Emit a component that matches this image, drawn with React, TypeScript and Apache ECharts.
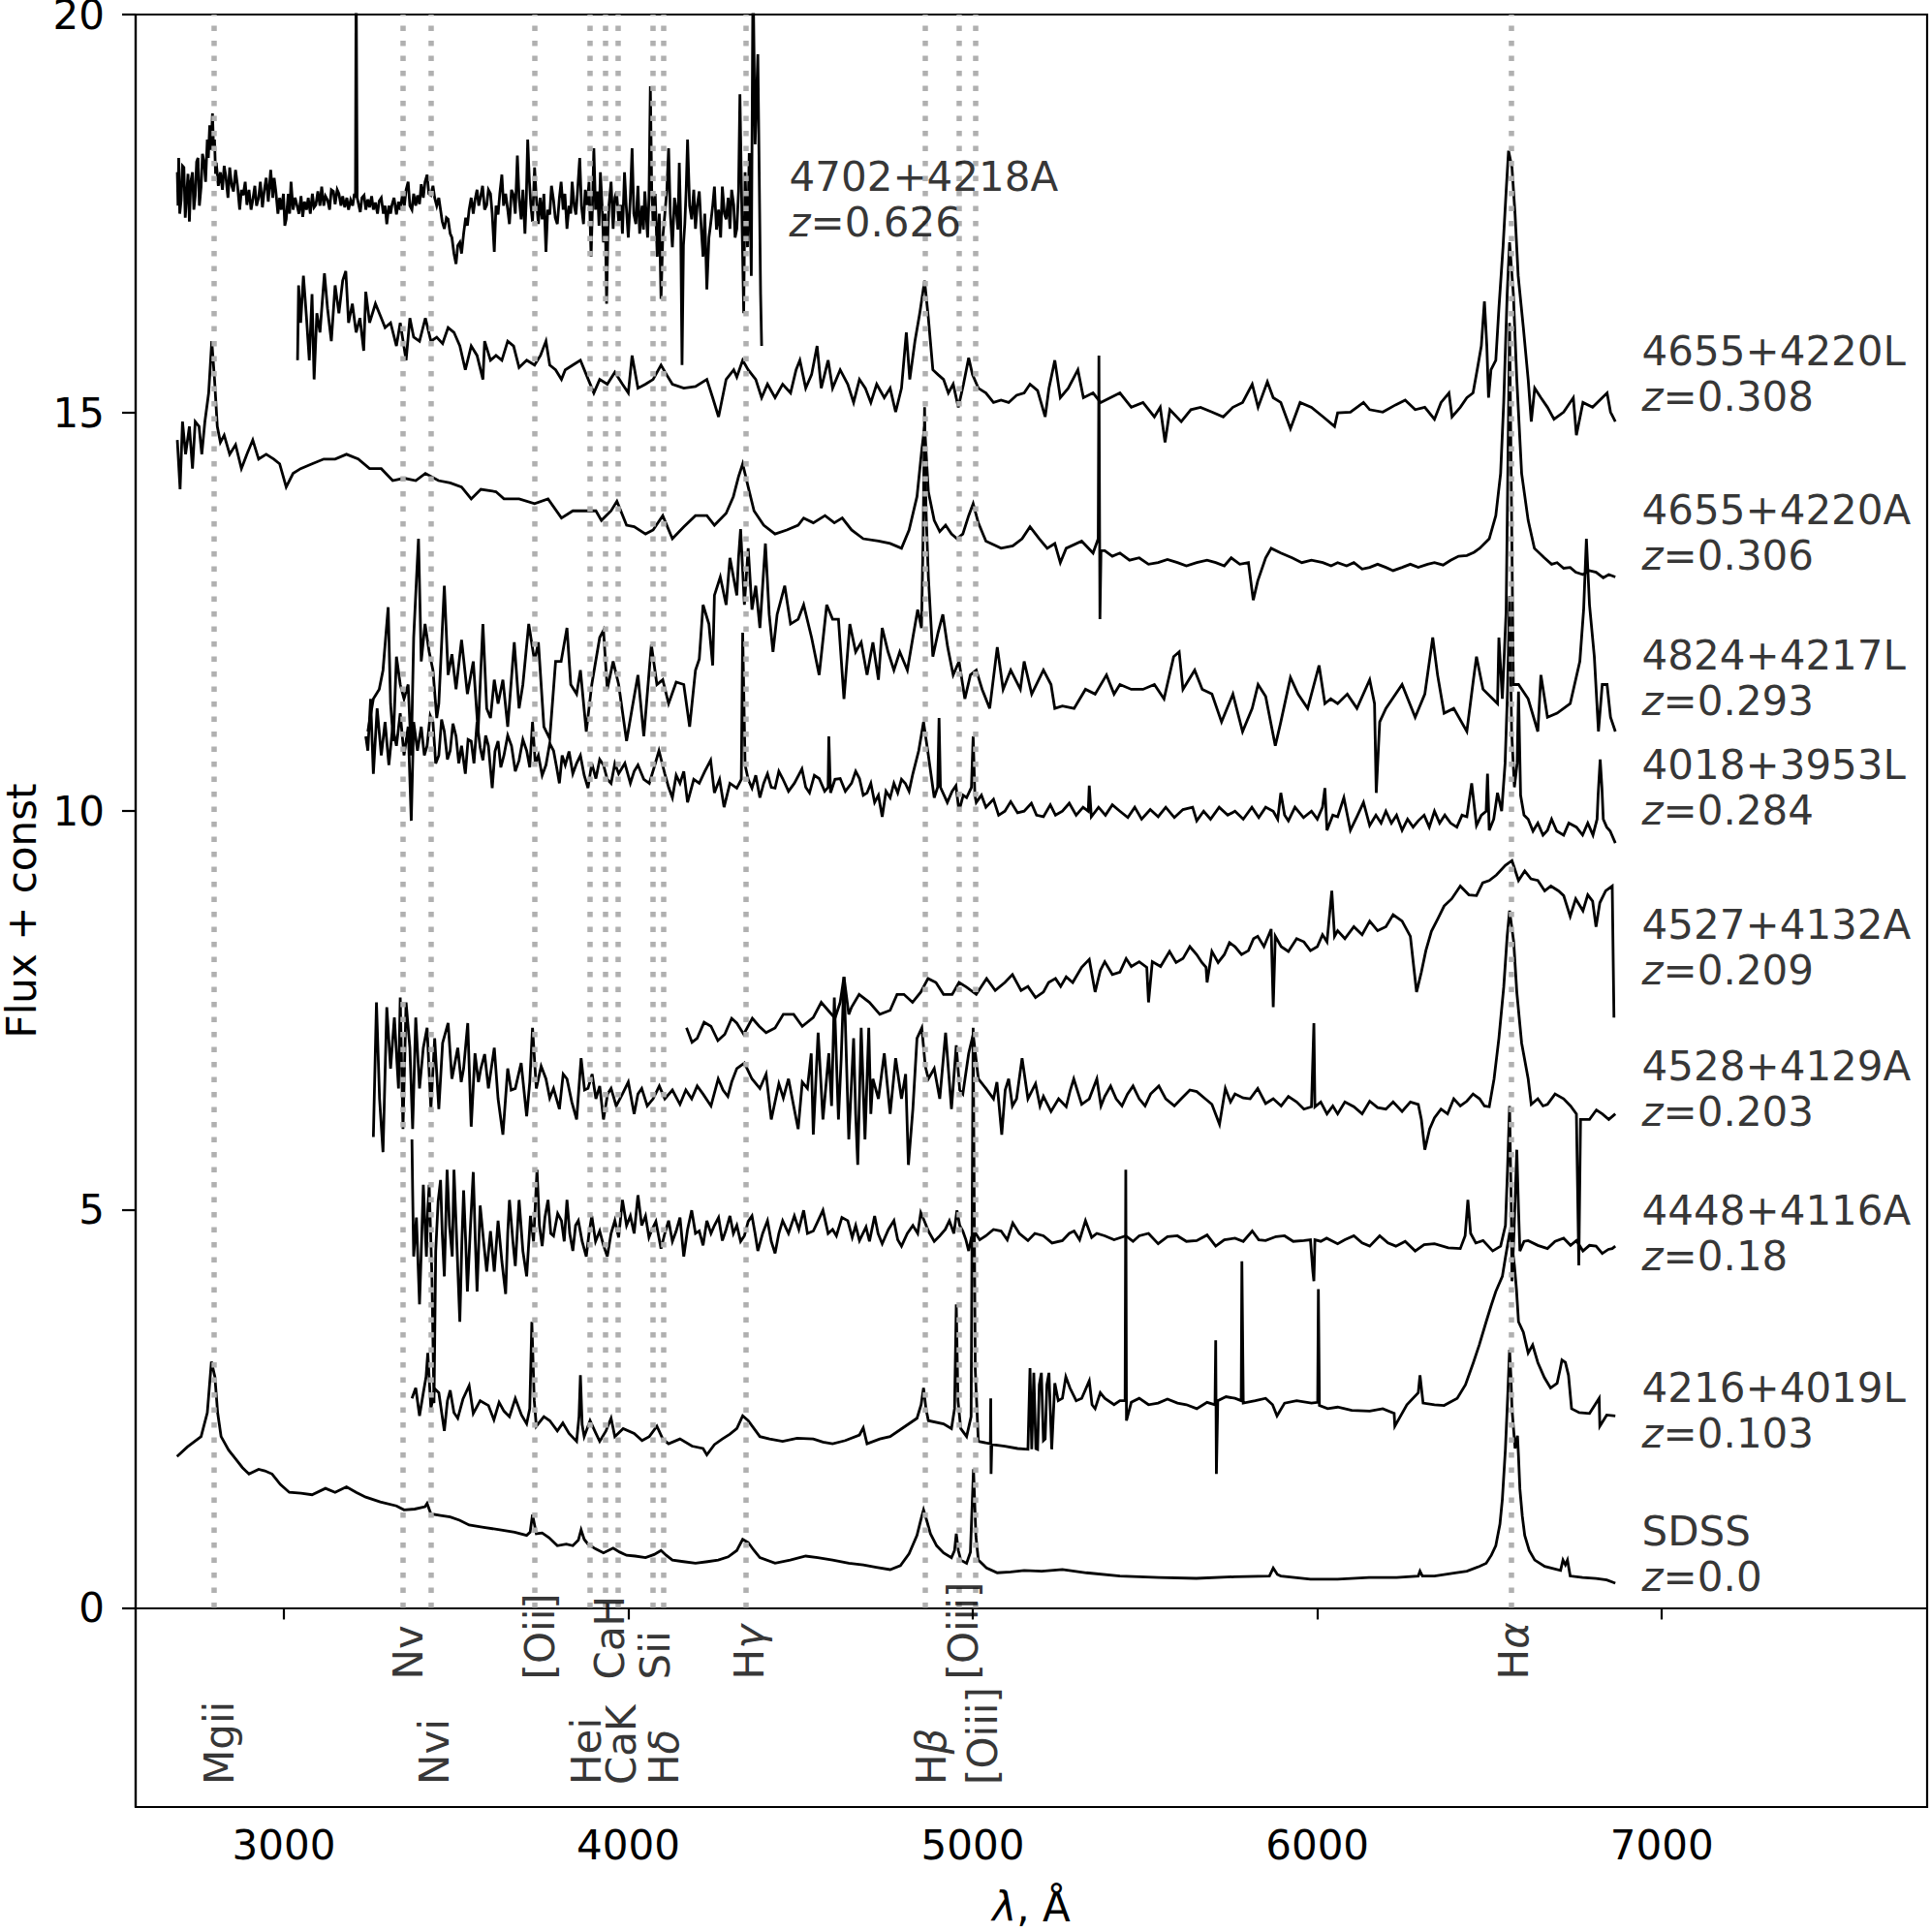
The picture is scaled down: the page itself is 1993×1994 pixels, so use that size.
import React, { useEffect, useRef } from "react";
import * as echarts from "echarts";

// ---- data (wavelength in Angstrom, flux + const) ----
const sdss: number[][] = [[2690,1.90],[2720,2.02],[2760,2.15],[2778,2.45],[2790,3.09],[2800,2.9],[2808,2.45],[2818,2.15],[2840,1.98],[2860,1.87],[2880,1.76],[2899,1.68],[2927,1.74],[2945,1.72],[2966,1.68],[2990,1.55],[3016,1.45],[3050,1.44],[3082,1.42],[3121,1.50],[3149,1.45],[3182,1.52],[3210,1.45],[3238,1.39],[3280,1.33],[3327,1.28],[3349,1.23],[3380,1.24],[3410,1.27],[3416,1.31],[3427,1.18],[3455,1.16],[3483,1.14],[3510,1.10],[3538,1.04],[3580,1.01],[3627,0.98],[3670,0.95],[3705,0.91],[3715,0.95],[3722,1.17],[3733,0.93],[3750,0.94],[3770,0.88],[3794,0.78],[3820,0.8],[3839,0.78],[3855,0.85],[3863,0.98],[3872,0.86],[3883,0.80],[3905,0.74],[3928,0.69],[3956,0.75],[3975,0.7],[3995,0.66],[4020,0.65],[4050,0.63],[4075,0.67],[4095,0.72],[4110,0.66],[4128,0.60],[4160,0.58],[4195,0.56],[4230,0.58],[4261,0.60],[4290,0.64],[4315,0.72],[4332,0.86],[4348,0.82],[4365,0.72],[4382,0.63],[4426,0.56],[4470,0.6],[4515,0.65],[4550,0.63],[4593,0.60],[4640,0.56],[4682,0.54],[4720,0.51],[4760,0.48],[4790,0.53],[4815,0.68],[4838,0.91],[4850,1.12],[4857,1.23],[4866,1.1],[4877,0.93],[4895,0.78],[4915,0.69],[4938,0.63],[4947,0.72],[4952,0.93],[4958,0.72],[4965,0.60],[4982,0.56],[4993,0.7],[5002,1.74],[5009,0.9],[5016,0.60],[5040,0.5],[5071,0.44],[5110,0.45],[5149,0.47],[5200,0.46],[5260,0.48],[5330,0.44],[5427,0.40],[5540,0.38],[5649,0.37],[5760,0.39],[5861,0.40],[5872,0.50],[5884,0.42],[5894,0.40],[5980,0.36],[6059,0.36],[6150,0.38],[6230,0.38],[6293,0.40],[6298,0.46],[6305,0.40],[6340,0.40],[6400,0.44],[6434,0.46],[6470,0.52],[6490,0.56],[6505,0.66],[6518,0.78],[6530,1.05],[6537,1.36],[6546,2.0],[6553,2.7],[6558,3.24],[6562,2.9],[6565,2.5],[6574,2.0],[6581,2.16],[6584,1.9],[6588,1.49],[6595,1.15],[6602,0.91],[6615,0.72],[6631,0.60],[6660,0.52],[6706,0.47],[6713,0.60],[6720,0.54],[6726,0.60],[6734,0.40],[6770,0.38],[6809,0.37],[6840,0.35],[6865,0.31]];

const s4216L: number[][] = [[3372,2.63],[3383,2.76],[3394,2.41],[3405,2.70],[3413,2.9],[3418,3.20],[3427,2.50],[3438,2.75],[3450,2.70],[3466,2.22],[3475,2.6],[3483,2.73],[3494,2.45],[3505,2.38],[3520,2.62],[3538,2.79],[3550,2.44],[3570,2.6],[3594,2.54],[3610,2.36],[3625,2.58],[3639,2.47],[3655,2.4],[3672,2.63],[3690,2.42],[3705,2.31],[3714,2.5],[3720,3.59],[3727,2.6],[3733,2.28],[3755,2.4],[3772,2.35],[3794,2.22],[3810,2.32],[3828,2.19],[3850,2.09],[3857,2.4],[3861,2.92],[3866,2.3],[3872,2.15],[3889,2.35],[3905,2.2],[3917,2.09],[3935,2.22],[3950,2.38],[3961,2.15],[3985,2.25],[4017,2.19],[4040,2.1],[4061,2.15],[4083,2.28],[4100,2.12],[4117,2.06],[4150,2.12],[4185,2.03],[4217,2.0],[4228,1.92],[4250,2.05],[4273,2.12],[4295,2.18],[4315,2.25],[4332,2.41],[4348,2.35],[4382,2.15],[4410,2.12],[4448,2.09],[4490,2.13],[4537,2.12],[4565,2.08],[4593,2.06],[4630,2.1],[4671,2.17],[4682,2.26],[4693,2.06],[4730,2.12],[4760,2.15],[4804,2.28],[4838,2.38],[4850,2.55],[4857,2.76],[4864,2.5],[4871,2.35],[4915,2.31],[4938,2.25],[4947,2.5],[4952,3.81],[4957,2.6],[4965,2.25],[4982,2.15],[4995,2.4],[5001,7.28],[5007,3.0],[5016,2.09],[5051,2.06],[5052,2.63],[5053,1.68],[5055,2.05],[5093,2.03],[5130,2.0],[5160,1.99],[5166,3.01],[5171,1.99],[5177,2.95],[5183,2.0],[5188,1.99],[5193,2.8],[5199,2.95],[5205,2.1],[5210,2.12],[5215,2.8],[5221,2.95],[5229,1.99],[5238,2.82],[5248,2.6],[5260,2.63],[5270,2.9],[5282,2.76],[5300,2.6],[5316,2.63],[5338,2.85],[5346,2.55],[5355,2.5],[5370,2.7],[5383,2.63],[5410,2.55],[5427,2.6],[5442,2.6],[5444,5.5],[5446,2.35],[5460,2.58],[5483,2.63],[5510,2.55],[5538,2.57],[5565,2.62],[5594,2.57],[5620,2.55],[5650,2.5],[5680,2.58],[5703,2.55],[5705,3.36],[5707,1.68],[5711,2.6],[5735,2.65],[5761,2.63],[5779,2.6],[5781,4.35],[5785,2.57],[5820,2.6],[5850,2.63],[5870,2.55],[5883,2.41],[5905,2.57],[5940,2.6],[5983,2.57],[6001,2.58],[6003,4.0],[6006,2.54],[6030,2.5],[6059,2.52],[6100,2.48],[6152,2.47],[6190,2.5],[6223,2.44],[6225,2.28],[6260,2.55],[6293,2.7],[6298,2.92],[6307,2.57],[6340,2.55],[6368,2.54],[6406,2.63],[6430,2.8],[6453,3.08],[6470,3.3],[6490,3.59],[6505,3.8],[6518,3.97],[6537,4.16],[6546,4.4],[6554,4.6],[6560,4.75],[6565,4.55],[6572,4.3],[6578,4.0],[6584,3.59],[6598,3.46],[6612,3.2],[6625,3.3],[6640,3.08],[6659,2.89],[6677,2.76],[6696,2.82],[6705,3.0],[6710,3.11],[6720,3.08],[6729,2.92],[6738,2.5],[6760,2.45],[6790,2.44],[6818,2.63],[6820,2.28],[6840,2.42],[6865,2.41]];

const s4448A: number[][] = [[3372,5.88],[3374,5.24],[3377,4.41],[3385,4.9],[3394,3.81],[3400,4.6],[3405,5.31],[3410,4.8],[3414,4.41],[3418,5.0],[3422,5.31],[3430,4.16],[3436,2.57],[3441,4.48],[3448,5.1],[3455,5.37],[3460,4.7],[3466,4.16],[3474,5.5],[3481,4.8],[3489,4.41],[3494,5.5],[3503,4.5],[3511,3.59],[3517,4.6],[3522,5.24],[3528,4.6],[3533,3.97],[3542,4.8],[3550,5.47],[3556,4.6],[3561,3.97],[3570,5.05],[3580,4.6],[3589,4.22],[3600,4.73],[3611,4.22],[3622,4.86],[3633,4.35],[3644,3.94],[3650,4.7],[3655,5.12],[3665,4.6],[3672,4.29],[3683,5.12],[3694,4.48],[3705,4.16],[3716,4.92],[3725,4.6],[3735,5.5],[3742,4.8],[3750,4.54],[3758,4.9],[3767,5.12],[3775,4.7],[3783,4.67],[3795,4.95],[3806,4.86],[3814,4.6],[3822,5.12],[3830,4.7],[3839,4.48],[3847,4.8],[3855,4.86],[3866,4.6],[3878,4.41],[3886,4.7],[3894,4.92],[3905,4.6],[3917,4.73],[3928,4.55],[3939,4.41],[3950,4.7],[3961,4.86],[3972,4.65],[3983,5.12],[3995,4.8],[4006,4.92],[4017,4.7],[4028,5.18],[4039,4.8],[4050,4.92],[4060,4.65],[4067,4.73],[4080,4.85],[4095,4.51],[4106,4.7],[4117,4.86],[4128,4.6],[4139,4.73],[4150,4.9],[4161,4.41],[4172,4.75],[4184,4.99],[4195,4.7],[4206,4.73],[4217,4.55],[4228,4.86],[4240,4.7],[4250,4.8],[4262,4.9],[4273,4.61],[4284,4.75],[4295,4.92],[4305,4.7],[4315,4.8],[4326,4.6],[4337,4.67],[4348,4.85],[4359,4.92],[4368,4.7],[4376,4.48],[4390,4.7],[4404,4.86],[4415,4.6],[4426,4.45],[4437,4.7],[4448,4.86],[4465,4.7],[4482,4.92],[4495,4.75],[4509,4.99],[4520,4.7],[4537,4.73],[4550,4.85],[4565,4.99],[4580,4.7],[4593,4.75],[4604,4.67],[4620,4.9],[4637,4.86],[4650,4.65],[4660,4.8],[4671,4.61],[4690,4.78],[4700,4.6],[4715,4.92],[4725,4.7],[4737,4.57],[4755,4.75],[4771,4.86],[4782,4.62],[4793,4.54],[4810,4.7],[4826,4.8],[4840,4.7],[4849,4.96],[4860,4.85],[4871,4.73],[4888,4.6],[4904,4.67],[4920,4.75],[4932,4.86],[4945,4.7],[4954,4.99],[4962,4.8],[4971,4.73],[4980,4.62],[4988,4.48],[4996,4.65],[5004,4.73],[5020,4.62],[5038,4.67],[5060,4.75],[5082,4.73],[5100,4.62],[5116,4.83],[5135,4.7],[5160,4.61],[5180,4.7],[5205,4.67],[5230,4.58],[5260,4.61],[5280,4.7],[5294,4.73],[5310,4.62],[5327,4.86],[5345,4.65],[5360,4.7],[5383,4.67],[5410,4.62],[5444,4.67],[5465,4.6],[5483,4.67],[5510,4.7],[5538,4.57],[5565,4.66],[5594,4.67],[5620,4.6],[5650,4.61],[5680,4.68],[5705,4.54],[5730,4.62],[5761,4.64],[5785,4.6],[5811,4.73],[5830,4.62],[5850,4.61],[5880,4.66],[5905,4.67],[5930,4.6],[5961,4.61],[5980,4.62],[5987,4.22],[5990,4.1],[5993,4.62],[6010,4.6],[6027,4.64],[6059,4.57],[6080,4.62],[6106,4.67],[6130,4.58],[6152,4.54],[6181,4.67],[6205,4.58],[6228,4.54],[6255,4.6],[6284,4.48],[6310,4.56],[6340,4.57],[6380,4.52],[6415,4.51],[6429,4.67],[6437,5.12],[6445,4.7],[6460,4.58],[6481,4.61],[6509,4.48],[6532,4.54],[6546,4.8],[6552,5.5],[6558,6.3],[6563,5.0],[6565,4.1],[6571,4.73],[6579,5.75],[6584,5.0],[6588,4.48],[6600,4.6],[6612,4.61],[6640,4.55],[6668,4.51],[6690,4.6],[6715,4.64],[6735,4.55],[6752,4.61],[6771,4.48],[6790,4.55],[6809,4.54],[6827,4.45],[6845,4.5],[6856,4.51],[6865,4.54]];

const s4528A: number[][] = [[3260,5.91],[3269,7.6],[3278,6.39],[3288,5.72],[3299,7.54],[3310,6.77],[3321,7.41],[3333,6.52],[3338,7.66],[3346,6.01],[3355,7.6],[3366,7.03],[3374,6.01],[3383,7.41],[3394,6.52],[3405,7.03],[3416,7.28],[3427,6.26],[3438,7.15],[3450,6.26],[3461,7.09],[3477,7.34],[3488,6.64],[3505,7.03],[3515,6.6],[3522,6.77],[3534,7.34],[3544,6.04],[3555,6.96],[3565,6.6],[3572,6.77],[3583,6.95],[3594,6.52],[3611,7.03],[3622,6.39],[3636,5.94],[3650,6.77],[3660,6.5],[3672,6.52],[3689,6.84],[3705,6.17],[3714,6.6],[3722,7.28],[3733,6.52],[3747,6.8],[3761,6.64],[3772,6.4],[3783,6.52],[3800,6.26],[3811,6.7],[3822,6.64],[3836,6.35],[3850,6.13],[3863,6.9],[3873,6.5],[3883,6.52],[3895,6.7],[3906,6.39],[3917,6.55],[3928,6.13],[3940,6.45],[3950,6.52],[3965,6.3],[3983,6.45],[4000,6.6],[4017,6.2],[4028,6.45],[4039,6.52],[4055,6.3],[4072,6.39],[4090,6.55],[4106,6.39],[4128,6.5],[4150,6.32],[4167,6.5],[4184,6.39],[4200,6.55],[4217,6.45],[4240,6.3],[4261,6.64],[4275,6.5],[4289,6.42],[4300,6.6],[4315,6.77],[4337,6.84],[4359,6.64],[4382,6.52],[4400,6.7],[4415,6.13],[4437,6.58],[4450,6.4],[4465,6.64],[4480,6.3],[4493,6.01],[4505,6.6],[4520,6.52],[4531,6.96],[4537,5.94],[4551,7.22],[4565,6.13],[4582,6.96],[4590,6.3],[4598,7.66],[4610,6.13],[4618,6.9],[4626,7.92],[4640,5.88],[4654,7.15],[4660,6.2],[4666,5.56],[4676,7.28],[4687,5.88],[4698,7.28],[4704,6.2],[4710,6.64],[4726,6.39],[4743,6.96],[4760,6.2],[4776,6.9],[4793,6.39],[4805,6.7],[4813,5.56],[4826,6.26],[4838,7.15],[4852,7.28],[4862,6.8],[4871,6.64],[4888,6.77],[4904,6.39],[4921,7.22],[4938,6.26],[4952,7.06],[4962,6.5],[4971,6.45],[4988,6.96],[5001,7.2],[5016,6.64],[5038,6.52],[5060,6.39],[5070,6.6],[5084,5.94],[5094,6.5],[5104,6.64],[5115,6.3],[5127,6.39],[5143,6.9],[5160,6.39],[5182,6.58],[5195,6.3],[5205,6.42],[5227,6.23],[5249,6.39],[5271,6.29],[5283,6.5],[5293,6.64],[5316,6.32],[5338,6.39],[5360,6.64],[5372,6.3],[5383,6.42],[5400,6.55],[5416,6.39],[5433,6.3],[5449,6.45],[5465,6.55],[5483,6.39],[5500,6.3],[5516,6.45],[5540,6.55],[5560,6.39],[5585,6.3],[5605,6.39],[5630,6.5],[5650,6.48],[5672,6.4],[5694,6.32],[5716,6.07],[5733,6.52],[5748,6.35],[5761,6.45],[5785,6.4],[5805,6.39],[5827,6.52],[5850,6.33],[5872,6.39],[5895,6.3],[5916,6.42],[5940,6.35],[5961,6.26],[5983,6.29],[5990,7.34],[5993,6.29],[6010,6.35],[6028,6.2],[6045,6.3],[6059,6.2],[6080,6.35],[6106,6.29],[6130,6.2],[6152,6.36],[6175,6.28],[6199,6.26],[6220,6.35],[6246,6.23],[6270,6.35],[6293,6.32],[6302,6.13],[6312,5.75],[6326,6.01],[6340,6.15],[6359,6.26],[6378,6.2],[6396,6.39],[6415,6.3],[6434,6.36],[6452,6.45],[6471,6.39],[6485,6.3],[6499,6.29],[6513,6.64],[6527,7.15],[6541,7.79],[6551,8.43],[6558,8.75],[6570,8.36],[6579,7.73],[6593,7.09],[6612,6.64],[6621,6.32],[6640,6.39],[6655,6.3],[6668,6.32],[6690,6.45],[6715,6.39],[6735,6.3],[6752,6.2],[6759,4.3],[6764,6.13],[6790,6.13],[6810,6.25],[6827,6.2],[6846,6.13],[6865,6.2]];

const s4527A: number[][] = [[4169,7.28],[4185,7.1],[4200,7.15],[4220,7.35],[4240,7.3],[4260,7.12],[4280,7.2],[4300,7.4],[4315,7.34],[4335,7.2],[4360,7.4],[4380,7.3],[4400,7.22],[4426,7.28],[4450,7.45],[4480,7.45],[4505,7.3],[4537,7.41],[4560,7.6],[4580,7.5],[4600,7.4],[4615,7.6],[4626,7.92],[4640,7.45],[4648,7.54],[4670,7.7],[4700,7.6],[4730,7.45],[4760,7.5],[4780,7.7],[4800,7.7],[4825,7.6],[4849,7.73],[4870,7.9],[4893,7.85],[4915,7.7],[4940,7.7],[4960,7.85],[4982,7.79],[5010,7.7],[5040,7.9],[5065,7.75],[5093,7.85],[5115,7.95],[5140,7.75],[5160,7.8],[5182,7.66],[5205,7.73],[5220,7.85],[5240,7.9],[5255,7.8],[5271,7.92],[5290,7.85],[5316,8.04],[5338,8.14],[5355,7.73],[5370,8.0],[5383,8.11],[5405,7.95],[5427,7.98],[5445,8.15],[5460,8.05],[5483,8.11],[5505,8.04],[5510,7.6],[5521,8.11],[5545,8.05],[5571,8.24],[5590,8.1],[5610,8.15],[5630,8.3],[5650,8.2],[5665,8.1],[5677,8.04],[5680,7.85],[5694,8.24],[5712,8.1],[5730,8.2],[5745,8.35],[5761,8.3],[5780,8.2],[5800,8.25],[5815,8.4],[5827,8.43],[5845,8.3],[5866,8.52],[5872,7.54],[5878,8.43],[5895,8.3],[5916,8.24],[5940,8.4],[5961,8.36],[5980,8.25],[6000,8.3],[6015,8.45],[6028,8.36],[6042,9.0],[6050,8.43],[6059,8.5],[6080,8.4],[6106,8.55],[6130,8.45],[6152,8.62],[6175,8.5],[6199,8.55],[6220,8.7],[6246,8.62],[6270,8.43],[6288,7.73],[6302,7.98],[6315,8.25],[6331,8.49],[6350,8.65],[6368,8.81],[6390,8.9],[6415,9.06],[6440,8.95],[6462,8.94],[6480,9.1],[6499,9.13],[6520,9.2],[6546,9.32],[6565,9.38],[6584,9.13],[6602,9.25],[6620,9.15],[6640,9.13],[6660,9.0],[6678,9.06],[6700,9.0],[6715,8.94],[6734,8.68],[6750,8.9],[6771,8.75],[6785,8.95],[6799,8.87],[6809,8.55],[6820,8.85],[6837,9.0],[6856,9.06],[6861,7.41]];

const s4018L: number[][] = [[3238,10.94],[3244,10.76],[3252,11.41],[3260,10.47],[3271,11.29],[3283,10.7],[3294,11.12],[3305,10.58],[3316,11.06],[3327,10.82],[3338,11.23],[3349,10.7],[3361,11.06],[3370,9.88],[3377,11.12],[3388,10.76],[3399,11.06],[3408,10.7],[3416,10.82],[3425,11.2],[3433,11.12],[3441,10.6],[3450,10.7],[3458,11.15],[3466,11.0],[3475,10.65],[3483,10.76],[3491,11.1],[3500,10.94],[3508,10.6],[3516,10.82],[3527,10.47],[3535,10.9],[3544,10.88],[3552,10.6],[3561,11.12],[3570,10.8],[3578,10.64],[3586,10.95],[3594,10.82],[3605,10.29],[3613,10.75],[3622,10.88],[3630,10.55],[3639,10.7],[3650,10.95],[3661,10.82],[3672,10.5],[3683,10.64],[3694,10.9],[3705,10.76],[3714,10.55],[3722,11.12],[3730,10.6],[3739,10.7],[3750,10.45],[3761,10.58],[3772,10.85],[3783,10.76],[3792,10.55],[3800,10.35],[3808,10.7],[3817,10.58],[3828,10.75],[3839,10.47],[3850,10.6],[3861,10.7],[3872,10.45],[3883,10.29],[3894,10.6],[3906,10.41],[3917,10.65],[3928,10.58],[3939,10.4],[3950,10.35],[3961,10.6],[3972,10.47],[3990,10.6],[4006,10.35],[4017,10.5],[4028,10.58],[4045,10.4],[4061,10.35],[4075,10.55],[4089,10.76],[4106,10.47],[4117,10.3],[4128,10.17],[4139,10.45],[4150,10.35],[4161,10.5],[4172,10.11],[4190,10.4],[4206,10.35],[4222,10.5],[4239,10.64],[4250,10.23],[4265,10.4],[4278,10.05],[4295,10.35],[4315,10.29],[4328,10.4],[4332,12.24],[4339,10.58],[4348,10.4],[4359,10.29],[4370,10.45],[4382,10.17],[4393,10.35],[4404,10.47],[4415,10.3],[4426,10.29],[4437,10.5],[4448,10.41],[4465,10.25],[4482,10.35],[4504,10.53],[4515,10.3],[4526,10.23],[4540,10.45],[4554,10.41],[4570,10.25],[4580,10.3],[4582,10.94],[4587,10.23],[4600,10.4],[4615,10.41],[4630,10.25],[4648,10.35],[4660,10.5],[4671,10.41],[4682,10.2],[4693,10.23],[4704,10.35],[4715,10.11],[4726,10.2],[4737,9.93],[4748,10.25],[4760,10.17],[4771,10.35],[4782,10.23],[4793,10.4],[4804,10.35],[4815,10.25],[4826,10.47],[4843,10.76],[4857,11.12],[4871,10.7],[4888,10.17],[4898,10.3],[4902,11.17],[4906,10.3],[4926,10.11],[4940,10.25],[4951,10.32],[4960,10.0],[4972,10.2],[4982,10.17],[4996,10.3],[5001,10.94],[5006,10.2],[5010,10.11],[5025,10.2],[5038,10.05],[5060,10.15],[5075,9.95],[5093,10.0],[5110,10.12],[5130,9.98],[5149,10.0],[5170,10.1],[5185,9.95],[5205,9.93],[5225,10.08],[5240,9.95],[5260,10.0],[5280,10.1],[5300,9.95],[5320,10.05],[5335,10.0],[5338,10.32],[5344,9.93],[5365,10.05],[5385,9.95],[5405,10.08],[5427,10.0],[5450,9.92],[5470,10.05],[5490,9.9],[5515,10.02],[5538,9.93],[5560,10.05],[5585,9.92],[5610,10.02],[5638,10.05],[5650,9.88],[5670,10.0],[5690,9.9],[5715,10.05],[5740,9.95],[5761,10.0],[5785,9.9],[5810,10.05],[5830,9.92],[5850,10.05],[5872,10.0],[5885,9.9],[5894,10.23],[5905,9.95],[5916,9.88],[5935,10.05],[5960,9.92],[5983,10.0],[6000,9.9],[6015,10.05],[6022,10.29],[6028,9.76],[6045,9.95],[6059,9.93],[6077,10.17],[6096,9.76],[6115,9.93],[6134,10.11],[6152,9.82],[6170,9.95],[6185,9.85],[6199,10.0],[6215,9.85],[6230,9.95],[6246,9.76],[6262,9.9],[6278,9.8],[6293,9.88],[6310,9.95],[6325,9.8],[6340,10.0],[6355,9.85],[6370,9.95],[6387,9.85],[6405,9.8],[6420,9.95],[6434,9.93],[6448,10.35],[6462,9.82],[6476,9.95],[6490,10.0],[6494,10.47],[6499,9.76],[6512,9.9],[6523,10.23],[6535,10.0],[6545,10.6],[6552,11.5],[6558,12.7],[6564,11.0],[6572,10.3],[6580,10.6],[6584,11.5],[6590,10.2],[6600,9.95],[6612,9.9],[6626,9.75],[6640,9.85],[6655,9.7],[6668,9.76],[6680,9.9],[6695,9.75],[6715,9.7],[6730,9.85],[6752,9.8],[6770,9.7],[6785,9.85],[6800,9.7],[6812,9.9],[6815,10.2],[6821,10.65],[6826,10.3],[6830,9.9],[6840,9.8],[6850,9.75],[6865,9.6]];

const s4824L: number[][] = [[3244,11.0],[3260,11.41],[3277,11.53],[3288,11.77],[3303,12.56],[3310,11.35],[3318,10.88],[3327,11.94],[3338,11.59],[3349,11.41],[3361,11.59],[3370,10.7],[3377,12.18],[3385,12.9],[3391,13.42],[3399,11.88],[3410,12.35],[3422,12.0],[3433,11.77],[3444,11.17],[3450,11.35],[3466,12.83],[3477,11.71],[3488,11.97],[3500,11.53],[3516,12.15],[3533,11.47],[3550,11.88],[3564,11.0],[3578,12.35],[3589,11.29],[3600,11.17],[3611,11.65],[3622,11.35],[3636,11.65],[3650,11.06],[3669,12.12],[3683,11.29],[3694,11.59],[3711,12.35],[3728,11.88],[3739,12.12],[3755,11.06],[3772,10.91],[3789,11.88],[3805,11.88],[3822,12.3],[3833,11.59],[3850,11.47],[3861,11.77],[3878,11.0],[3894,11.59],[3917,12.18],[3928,12.27],[3939,11.53],[3956,11.88],[3972,11.59],[3995,10.88],[4011,11.29],[4028,11.71],[4045,10.94],[4067,12.09],[4083,11.59],[4100,11.65],[4117,11.35],[4139,11.62],[4161,11.59],[4178,11.06],[4195,11.77],[4206,11.91],[4217,12.59],[4234,12.35],[4245,11.83],[4250,12.71],[4267,12.94],[4284,12.59],[4295,13.18],[4315,12.71],[4320,13.18],[4326,13.54],[4337,12.59],[4348,13.3],[4359,12.53],[4370,12.83],[4382,12.3],[4398,13.36],[4409,12.47],[4420,12.0],[4432,12.47],[4454,12.83],[4471,12.35],[4493,12.41],[4509,12.59],[4532,12.18],[4554,11.71],[4576,12.59],[4593,12.41],[4610,12.41],[4626,11.41],[4643,12.35],[4660,12.0],[4676,12.12],[4693,11.71],[4710,12.12],[4726,11.65],[4737,12.3],[4754,12.0],[4771,11.77],[4788,12.0],[4810,11.77],[4826,12.18],[4840,12.53],[4851,12.3],[4856,13.5],[4860,15.07],[4864,13.8],[4871,12.94],[4884,11.94],[4899,12.24],[4913,12.47],[4927,12.06],[4943,11.71],[4960,11.88],[4977,11.41],[4993,11.71],[5010,11.77],[5027,11.53],[5049,11.29],[5071,12.06],[5088,11.53],[5110,11.77],[5138,11.53],[5149,11.88],[5171,11.47],[5205,11.77],[5227,11.59],[5238,11.29],[5260,11.32],[5294,11.29],[5327,11.53],[5355,11.47],[5388,11.71],[5410,11.47],[5427,11.59],[5460,11.53],[5494,11.53],[5527,11.59],[5555,11.41],[5583,11.94],[5599,12.0],[5610,11.53],[5644,11.77],[5666,11.53],[5694,11.47],[5722,11.12],[5755,11.47],[5783,11.0],[5811,11.29],[5828,11.59],[5850,11.44],[5878,10.82],[5894,11.12],[5922,11.68],[5944,11.47],[5972,11.29],[6005,11.83],[6022,11.35],[6039,11.41],[6059,11.35],[6087,11.47],[6115,11.29],[6152,11.65],[6166,11.35],[6171,10.23],[6181,11.12],[6199,11.29],[6246,11.59],[6284,11.18],[6312,11.47],[6335,12.18],[6349,11.71],[6368,11.23],[6396,11.29],[6434,11.0],[6453,11.65],[6462,11.94],[6481,11.53],[6509,11.41],[6523,11.35],[6527,12.18],[6537,11.41],[6548,12.5],[6555,15.0],[6558,16.13],[6562,14.5],[6569,11.59],[6584,11.59],[6612,11.41],[6640,11.0],[6649,11.71],[6668,11.18],[6696,11.23],[6734,11.35],[6762,11.88],[6773,12.53],[6781,13.42],[6790,12.59],[6804,11.94],[6816,11.0],[6827,11.59],[6841,11.59],[6851,11.18],[6865,11.0]];

const s4655A: number[][] = [[2691,14.66],[2699,14.04],[2706,14.89],[2715,14.48],[2726,14.83],[2735,14.3],[2743,14.89],[2754,14.83],[2762,14.48],[2771,14.89],[2782,15.25],[2791,15.9],[2799,15.42],[2807,14.83],[2816,14.63],[2827,14.72],[2843,14.48],[2860,14.6],[2877,14.3],[2893,14.48],[2910,14.66],[2927,14.42],[2949,14.48],[2971,14.42],[2988,14.36],[3007,14.07],[3027,14.24],[3049,14.3],[3082,14.36],[3116,14.42],[3149,14.42],[3182,14.48],[3216,14.42],[3249,14.3],[3283,14.3],[3316,14.15],[3349,14.18],[3383,14.15],[3411,14.24],[3449,14.15],[3483,14.12],[3516,14.07],[3544,13.92],[3572,14.04],[3616,14.01],[3639,13.92],[3683,13.92],[3728,13.86],[3767,13.92],[3806,13.68],[3839,13.77],[3872,13.77],[3906,13.77],[3922,13.65],[3950,13.77],[3967,13.89],[3995,13.59],[4017,13.57],[4050,13.48],[4072,13.53],[4100,13.71],[4128,13.42],[4161,13.57],[4195,13.71],[4228,13.71],[4250,13.59],[4284,13.74],[4305,13.95],[4320,14.2],[4332,14.36],[4348,14.07],[4365,13.77],[4393,13.59],[4426,13.48],[4460,13.53],[4493,13.59],[4509,13.68],[4537,13.62],[4571,13.71],[4598,13.62],[4621,13.68],[4648,13.53],[4682,13.42],[4726,13.39],[4760,13.36],[4793,13.3],[4815,13.53],[4838,13.95],[4852,14.54],[4860,14.83],[4871,14.01],[4888,13.65],[4904,13.51],[4921,13.59],[4938,13.48],[4954,13.42],[4971,13.48],[4988,13.71],[5001,13.86],[5016,13.62],[5038,13.39],[5082,13.3],[5116,13.33],[5143,13.42],[5166,13.57],[5193,13.42],[5216,13.3],[5238,13.36],[5254,13.12],[5271,13.3],[5316,13.39],[5349,13.24],[5364,13.42],[5366,15.72],[5369,12.41],[5372,13.27],[5383,13.27],[5405,13.2],[5427,13.24],[5455,13.15],[5483,13.18],[5510,13.1],[5538,13.12],[5565,13.16],[5594,13.12],[5620,13.08],[5650,13.12],[5680,13.15],[5705,13.12],[5730,13.08],[5750,13.18],[5775,13.1],[5800,13.12],[5814,12.65],[5827,12.89],[5850,13.18],[5866,13.3],[5894,13.24],[5927,13.18],[5955,13.12],[5983,13.15],[6016,13.12],[6040,13.08],[6059,13.12],[6085,13.08],[6106,13.12],[6130,13.04],[6152,13.06],[6175,13.1],[6199,13.06],[6220,13.02],[6246,13.06],[6270,13.1],[6293,13.06],[6320,13.1],[6340,13.12],[6365,13.09],[6387,13.15],[6410,13.2],[6434,13.21],[6455,13.25],[6471,13.3],[6499,13.42],[6518,13.71],[6532,14.24],[6541,15.13],[6551,16.49],[6558,17.14],[6569,16.49],[6579,15.42],[6593,14.24],[6612,13.65],[6630,13.3],[6659,13.18],[6680,13.1],[6696,13.12],[6715,13.05],[6734,13.06],[6750,13.0],[6771,12.97],[6790,13.02],[6809,13.0],[6830,12.93],[6846,12.97],[6865,12.94]];

const s4655L: number[][] = [[3040,15.66],[3043,16.6],[3049,16.13],[3057,16.72],[3066,16.19],[3074,15.66],[3082,16.49],[3088,15.42],[3096,16.25],[3105,16.01],[3118,16.75],[3127,16.31],[3138,15.9],[3149,16.6],[3160,16.25],[3171,16.66],[3180,16.78],[3188,16.13],[3199,16.37],[3210,16.01],[3221,16.19],[3232,15.78],[3238,16.52],[3249,16.13],[3266,16.37],[3283,16.19],[3294,16.07],[3310,16.13],[3327,15.84],[3338,16.13],[3355,15.66],[3366,16.19],[3377,15.95],[3394,15.9],[3411,16.19],[3427,15.9],[3444,15.95],[3461,15.87],[3477,16.07],[3494,16.01],[3511,15.84],[3527,15.54],[3544,15.84],[3561,15.72],[3578,15.42],[3583,15.9],[3600,15.66],[3616,15.72],[3633,15.66],[3650,15.9],[3667,15.84],[3683,15.57],[3705,15.66],[3728,15.6],[3745,15.72],[3761,15.9],[3772,15.6],[3789,15.54],[3806,15.42],[3817,15.54],[3839,15.6],[3861,15.66],[3878,15.48],[3900,15.25],[3917,15.42],[3939,15.36],[3961,15.51],[3983,15.36],[4000,15.25],[4011,15.72],[4028,15.31],[4050,15.36],[4072,15.42],[4095,15.6],[4111,15.48],[4128,15.36],[4161,15.31],[4195,15.33],[4228,15.42],[4245,15.19],[4262,14.95],[4284,15.42],[4306,15.54],[4315,15.45],[4332,15.66],[4348,15.54],[4370,15.42],[4387,15.19],[4404,15.36],[4426,15.19],[4448,15.36],[4471,15.25],[4487,15.54],[4498,15.66],[4515,15.31],[4532,15.48],[4548,15.84],[4560,15.31],[4580,15.66],[4593,15.31],[4615,15.54],[4637,15.36],[4654,15.13],[4671,15.42],[4688,15.31],[4704,15.13],[4721,15.36],[4743,15.19],[4760,15.31],[4776,15.01],[4793,15.31],[4807,16.01],[4817,15.42],[4832,15.9],[4846,16.25],[4860,16.66],[4871,16.19],[4884,15.54],[4899,15.48],[4915,15.42],[4929,15.25],[4943,15.36],[4958,15.07],[4973,15.36],[4988,15.69],[4999,15.48],[5016,15.31],[5038,15.25],[5060,15.13],[5082,15.16],[5104,15.13],[5127,15.22],[5149,15.25],[5166,15.36],[5188,15.28],[5210,14.95],[5221,15.31],[5238,15.66],[5254,15.19],[5277,15.31],[5305,15.54],[5321,15.19],[5349,15.25],[5371,15.13],[5399,15.19],[5427,15.25],[5460,15.07],[5494,15.13],[5527,14.95],[5544,15.07],[5558,14.63],[5572,15.04],[5605,14.89],[5633,15.04],[5661,15.07],[5694,15.01],[5727,14.95],[5755,15.07],[5783,15.13],[5811,15.36],[5828,15.07],[5855,15.39],[5872,15.19],[5894,15.13],[5922,14.8],[5950,15.13],[5983,15.07],[6017,14.95],[6050,14.83],[6059,15.0],[6096,15.01],[6134,15.13],[6152,15.04],[6190,15.01],[6227,15.1],[6255,15.16],[6284,15.04],[6312,15.07],[6340,14.92],[6359,15.13],[6382,15.25],[6391,14.95],[6415,15.07],[6434,15.19],[6452,15.25],[6464,15.54],[6476,15.84],[6485,16.4],[6492,15.84],[6497,15.19],[6504,15.54],[6518,15.66],[6527,16.31],[6539,17.08],[6548,17.78],[6555,18.29],[6565,18.08],[6574,17.49],[6583,16.72],[6598,16.07],[6612,15.42],[6621,14.89],[6631,15.31],[6649,15.19],[6668,15.07],[6687,14.92],[6715,15.01],[6743,15.19],[6752,14.72],[6771,15.13],[6799,15.07],[6827,15.19],[6841,15.25],[6851,15.01],[6865,14.89]];

const s4702A: number[][] = [[2691,18.02],[2693,17.6],[2695,18.2],[2698,17.5],[2702,17.67],[2706,18.1],[2710,18.08],[2714,17.45],[2718,17.73],[2722,18.0],[2726,17.4],[2730,17.9],[2735,18.02],[2739,17.55],[2743,17.73],[2747,18.15],[2751,18.2],[2755,17.6],[2760,17.84],[2764,18.25],[2769,18.14],[2773,17.9],[2778,18.43],[2781,18.2],[2785,18.61],[2789,18.3],[2793,18.76],[2796,18.35],[2799,18.43],[2802,18.0],[2804,18.14],[2810,17.85],[2816,18.02],[2822,17.8],[2827,18.1],[2832,17.96],[2838,17.7],[2843,18.08],[2849,17.85],[2854,17.78],[2860,18.05],[2866,17.84],[2872,17.55],[2877,17.8],[2882,17.73],[2888,17.9],[2893,17.61],[2899,17.8],[2905,17.55],[2910,17.67],[2916,17.85],[2921,17.6],[2927,17.7],[2932,17.9],[2938,17.58],[2943,17.78],[2949,17.95],[2955,17.65],[2962,18.05],[2968,17.7],[2972,17.95],[2977,17.78],[2983,17.5],[2988,17.7],[2993,17.55],[2999,17.75],[3003,17.35],[3007,17.43],[3013,17.75],[3017,17.5],[3021,17.9],[3027,17.55],[3033,17.7],[3038,17.61],[3044,17.5],[3050,17.72],[3055,17.46],[3060,17.65],[3066,17.55],[3071,17.7],[3077,17.5],[3083,17.75],[3088,17.58],[3093,17.61],[3099,17.78],[3105,17.6],[3110,17.84],[3116,17.6],[3121,17.72],[3127,17.67],[3133,17.55],[3138,17.8],[3144,17.78],[3149,17.62],[3155,17.8],[3160,17.75],[3166,17.6],[3171,17.72],[3177,17.58],[3183,17.7],[3188,17.55],[3194,17.67],[3200,17.6],[3205,17.75],[3208,17.7],[3210,20.6],[3213,17.7],[3216,17.64],[3222,17.52],[3227,17.7],[3233,17.73],[3238,17.55],[3244,17.68],[3249,17.58],[3255,17.72],[3260,17.55],[3266,17.64],[3272,17.5],[3277,17.66],[3283,17.7],[3289,17.5],[3294,17.6],[3299,17.37],[3305,17.6],[3310,17.5],[3314,17.61],[3320,17.7],[3327,17.49],[3333,17.65],[3338,17.55],[3344,17.73],[3350,17.6],[3355,17.8],[3361,17.9],[3366,17.6],[3372,17.55],[3377,17.75],[3383,17.6],[3388,17.73],[3394,17.62],[3399,17.87],[3405,17.7],[3410,17.9],[3416,17.99],[3421,17.75],[3427,17.73],[3433,17.85],[3438,17.7],[3444,17.6],[3450,17.7],[3455,17.55],[3460,17.4],[3466,17.31],[3472,17.45],[3477,17.43],[3483,17.25],[3488,17.2],[3494,17.0],[3500,16.87],[3505,17.1],[3511,17.14],[3516,17.0],[3522,17.25],[3528,17.45],[3533,17.35],[3538,17.55],[3544,17.7],[3550,17.5],[3555,17.67],[3561,17.8],[3566,17.6],[3572,17.73],[3577,17.85],[3583,17.55],[3589,17.61],[3594,17.8],[3600,17.75],[3605,17.5],[3611,17.02],[3616,17.6],[3622,17.49],[3627,17.75],[3633,17.99],[3638,17.6],[3644,17.75],[3650,17.55],[3655,17.37],[3661,17.8],[3667,17.73],[3672,17.5],[3678,18.23],[3683,17.7],[3689,17.43],[3694,17.8],[3700,17.25],[3704,17.7],[3708,18.43],[3713,17.9],[3717,17.61],[3722,17.4],[3728,18.08],[3733,17.7],[3739,17.37],[3744,17.7],[3750,17.43],[3755,17.75],[3761,17.02],[3766,17.55],[3772,17.49],[3777,17.85],[3783,17.67],[3788,17.45],[3794,17.37],[3800,17.7],[3805,17.9],[3811,17.55],[3816,17.75],[3822,17.31],[3828,17.6],[3833,17.5],[3837,17.9],[3843,17.6],[3848,17.49],[3853,17.8],[3859,18.2],[3864,17.6],[3870,17.37],[3875,17.8],[3881,17.61],[3886,17.9],[3892,16.96],[3896,17.6],[3900,18.32],[3905,17.55],[3911,17.78],[3915,17.35],[3919,18.02],[3924,17.6],[3928,17.14],[3933,17.5],[3937,16.37],[3941,17.3],[3944,17.61],[3950,17.9],[3956,17.31],[3961,17.7],[3966,17.78],[3972,17.4],[3978,17.61],[3983,17.25],[3989,18.02],[3994,17.6],[4000,17.2],[4006,17.7],[4011,18.32],[4016,17.5],[4022,17.37],[4028,17.85],[4033,17.25],[4040,17.6],[4044,17.3],[4048,17.78],[4052,17.5],[4056,17.2],[4060,17.7],[4064,19.1],[4068,17.8],[4072,17.37],[4078,17.75],[4084,16.96],[4090,17.5],[4095,16.43],[4100,17.2],[4106,17.49],[4112,17.8],[4117,18.32],[4122,17.5],[4128,17.08],[4134,17.7],[4139,17.55],[4144,17.3],[4148,18.14],[4152,17.4],[4156,15.6],[4160,17.1],[4164,17.37],[4168,17.8],[4172,18.43],[4178,17.6],[4184,17.43],[4190,17.8],[4195,17.31],[4200,17.6],[4206,17.78],[4212,17.3],[4217,16.96],[4222,17.5],[4228,16.55],[4234,17.2],[4239,17.37],[4245,17.6],[4250,17.84],[4256,17.3],[4262,17.55],[4268,17.2],[4273,17.84],[4279,17.5],[4284,17.43],[4290,17.7],[4295,17.31],[4300,17.8],[4306,17.61],[4310,17.2],[4315,17.31],[4320,17.78],[4324,19.0],[4330,17.43],[4335,16.25],[4339,18.02],[4346,17.08],[4351,18.26],[4357,16.72],[4362,20.6],[4368,18.37],[4376,19.5],[4384,16.49],[4387,15.84]];

const SPECTRA = [sdss, s4216L, s4448A, s4528A, s4527A, s4018L, s4824L, s4655A, s4655L, s4702A];

// Rest wavelengths of the marked lines
const LINE_WAVELENGTHS = [2798, 3346, 3426, 3727, 3889, 3934, 3969, 4072, 4102, 4340, 4861, 4959, 5007, 6563];

// Line identifications (anchor wavelength, anchor flux, text)
const LINE_LABEL_TEXT = ["Mgii", "Nv", "Nvi", "[Oii]", "Hei", "CaH", "CaK", "Sii", "H{g|δ}", "H{g|γ}", "H{g|β}", "[Oiii]", "[Oiii]", "H{g|α}"];
const LINE_LABEL_X = [2812, 3361, 3437, 3745, 3878, 3947, 3981, 4078, 4105, 4351, 4879, 4974, 5029, 6571];
const LINE_LABEL_Y = [-2.22, -0.9, -2.22, -0.9, -2.22, -0.9, -2.22, -0.9, -2.22, -0.9, -2.22, -0.9, -2.22, -0.9];

// Object labels
const OBJ_NAMES = ["4702+4218A", "4655+4220L", "4655+4220A", "4824+4217L", "4018+3953L", "4527+4132A", "4528+4129A", "4448+4116A", "4216+4019L", "SDSS"];
const OBJ_Z = ["0.626", "0.308", "0.306", "0.293", "0.284", "0.209", "0.203", "0.18", "0.103", "0.0"];
const OBJ_X = [4467, 6942, 6942, 6942, 6942, 6942, 6942, 6942, 6942, 6942];
const OBJ_Y = [17.68, 15.49, 13.49, 11.67, 10.30, 8.29, 6.51, 4.70, 2.48, 0.68];

const X_TICKS = [3000, 4000, 5000, 6000, 7000];
const Y_TICKS = [0, 5, 10, 15, 20];

const FONT = "DejaVu Sans";

export default function App() {
  const ref = useRef<HTMLDivElement>(null);
  useEffect(() => {
    if (!ref.current) return;
    const chart = echarts.init(ref.current, undefined, { renderer: "svg" });
    const textBase = { fontFamily: FONT, fontSize: 42, color: "#000" };
    const rich = {
      n: { ...textBase, lineHeight: 47 },
      z: { ...textBase, fontStyle: "italic", lineHeight: 47 },
      g: { ...textBase, fontStyle: "italic", lineHeight: 42 },
      t: { ...textBase, lineHeight: 42 },
    };
    const series: any[] = [];
    series.push({
      type: "line",
      data: [],
      silent: true,
      z: 1,
      markLine: {
        silent: true,
        symbol: ["none", "none"],
        label: { show: false },
        lineStyle: { color: "#b0b0b0", width: 5.5, type: [5.5, 10] },
        data: LINE_WAVELENGTHS.map((w) => [{ coord: [w, 0] }, { coord: [w, 20] }]),
      },
    });
    SPECTRA.forEach((d) => {
      series.push({
        type: "line",
        data: d,
        symbol: "none",
        showSymbol: false,
        silent: true,
        clip: true,
        z: 3,
        lineStyle: { color: "#000", width: 2.8, join: "miter" },
      });
    });
    series.push({
      type: "scatter",
      symbolSize: 0,
      silent: true,
      z: 5,
      data: LINE_LABEL_TEXT.map((t, i) => ({
        value: [LINE_LABEL_X[i], LINE_LABEL_Y[i]],
        label: {
          show: true,
          position: "right",
          distance: 0,
          rotate: 90,
          align: "left",
          verticalAlign: "middle",
          formatter: t,
          textBorderWidth: 0,
          ...textBase,
          rich,
        },
      })),
    });
    series.push({
      type: "scatter",
      symbolSize: 0,
      silent: true,
      z: 5,
      data: OBJ_NAMES.map((n, i) => ({
        value: [OBJ_X[i], OBJ_Y[i]],
        label: {
          show: true,
          position: "right",
          distance: 0,
          align: "left",
          verticalAlign: "middle",
          textBorderWidth: 0,
          ...textBase,
          formatter: `{n|${n}}\n{z|z}{n|=${OBJ_Z[i]}}`,
          rich,
        },
      })),
    });

    chart.setOption({
      animation: false,
      textStyle: { fontFamily: FONT },
      grid: {
        left: 140, right: 4, top: 15, bottom: 129,
        containLabel: false, outerBoundsMode: "none",
        show: true, borderColor: "#000", borderWidth: 2.2, backgroundColor: "transparent",
      },
      xAxis: {
        type: "value",
        min: 2570,
        max: 7770,
        splitLine: { show: false },
        axisLine: { show: true, lineStyle: { color: "#000", width: 2.2 } },
        axisTick: { show: true, length: 12, lineStyle: { color: "#000", width: 2.2 }, customValues: X_TICKS },
        axisLabel: { customValues: X_TICKS, ...textBase, margin: 18, formatter: (v: number) => String(v) },
        name: "{g|λ}{t|, Å}",
        nameLocation: "middle",
        nameGap: 82,
        nameTextStyle: { ...textBase, lineHeight: 42, rich },
      },
      yAxis: {
        type: "value",
        min: -2.5,
        max: 20,
        splitLine: { show: false },
        axisLine: { show: true, lineStyle: { color: "#000", width: 2.2 } },
        axisTick: { show: true, length: 14, lineStyle: { color: "#000", width: 2.2 }, customValues: Y_TICKS },
        axisLabel: { customValues: Y_TICKS, ...textBase, lineHeight: 30, margin: 32, formatter: (v: number) => String(v) },
        name: "Flux + const",
        nameLocation: "middle",
        nameRotate: 90,
        nameGap: 82,
        nameTextStyle: { ...textBase, lineHeight: 36 },
      },
      series,
    });
    return () => chart.dispose();
  }, []);
  return <div ref={ref} style={{ position: "fixed", left: 0, top: 0, width: 1993, height: 1994, background: "#fff" }} />;
}
